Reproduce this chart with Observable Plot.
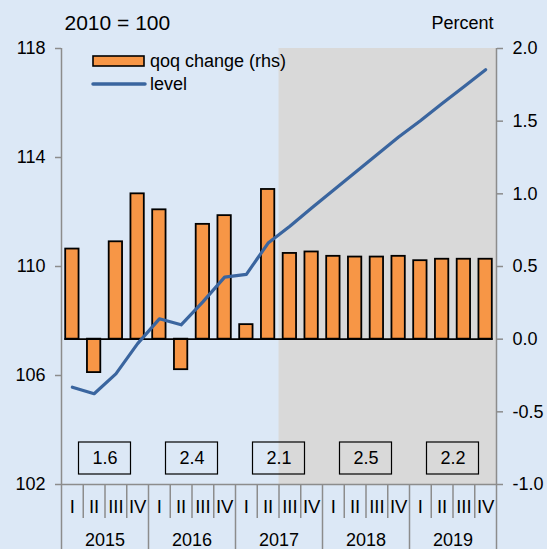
<!DOCTYPE html>
<html><head><meta charset="utf-8">
<script src="https://cdn.jsdelivr.net/npm/d3@7"></script>
<script src="https://cdn.jsdelivr.net/npm/@observablehq/plot@0.6"></script>
<style>
html,body{margin:0;padding:0;background:#dce8f6;}
#chart svg{display:block}
</style></head><body><div id="chart"></div>
<script>
// ---- data ----
const years = [2015, 2016, 2017, 2018, 2019];
const quarterLabels = ["I", "II", "III", "IV"];
const qoqChange = [0.62, -0.23, 0.67, 1.00, 0.89, -0.21, 0.79, 0.85, 0.10, 1.03, 0.59, 0.60, 0.57, 0.565, 0.565, 0.57, 0.54, 0.55, 0.55, 0.55];
const levelIndex = [105.57, 105.33, 106.06, 107.17, 108.08, 107.86, 108.70, 109.61, 109.71, 110.86, 111.48, 112.15, 112.80, 113.45, 114.10, 114.75, 115.35, 115.98, 116.60, 117.22];
const annualGrowth = [1.6, 2.4, 2.1, 2.5, 2.2];
const forecastStartIndex = 10; // 2017 Q3 onwards shaded
const leftTicks = [102, 106, 110, 114, 118];
const rightTicks = [-1.0, -0.5, 0.0, 0.5, 1.0, 1.5, 2.0];
const leftDomain = [102, 118];
const rightDomain = [-1, 2];
const titleLeft = "2010 = 100";
const titleRight = "Percent";
const legendLabels = ["qoq change (rhs)", "level"];

// ---- helpers ----
const toRight = v => rightDomain[0] + (v - leftDomain[0]) / (leftDomain[1] - leftDomain[0]) * (rightDomain[1] - rightDomain[0]);
const fromRight = v => leftDomain[0] + (v - rightDomain[0]) / (rightDomain[1] - rightDomain[0]) * (leftDomain[1] - leftDomain[0]);
const rows = years.flatMap((y, yi) => quarterLabels.map((q, qi) => {
  const i = yi * 4 + qi;
  return {i, year: y, q, qoq: qoqChange[i], level: levelIndex[i]};
}));
const N = rows.length;
const qSeps = rows.map(d => d.i).filter(i => i % 4 !== 0);
const ySeps = years.map((y, yi) => yi * 4).concat([N]);

const FONT = '"Liberation Sans", Arial, sans-serif';
const GRAY = "#8c8c8c";
const ORANGE = "#f79646";
const BLUE = "#3a659f";
const BG = "#dce8f6";

const chart = Plot.plot({
  width: 547, height: 549,
  marginLeft: 61, marginRight: 51, marginTop: 48, marginBottom: 65,
  style: {background: BG, fontFamily: FONT, fontSize: "18px", color: "#000", overflow: "visible"},
  x: {type: "linear", domain: [0, N], axis: null},
  y: {type: "linear", domain: rightDomain, axis: null},
  marks: [
    Plot.rect([forecastStartIndex], {x1: d => d, x2: N, y1: rightDomain[0], y2: rightDomain[1], fill: "#d9d9d9"}),
    Plot.rect(rows, {x1: d => d.i, x2: d => d.i + 1, y1: 0, y2: d => d.qoq, fill: ORANGE, stroke: "#000", strokeWidth: 1.8, insetLeft: 4.2, insetRight: 4.2}),
    Plot.ruleY([0], {x1: 0, x2: N, stroke: "#000", strokeWidth: 1.6, insetLeft: 3.3, insetRight: 3.3}),
    Plot.line(rows, {x: d => d.i + 0.5, y: d => toRight(d.level), stroke: BLUE, strokeWidth: 3.2, strokeLinejoin: "round"}),
    // frame lines
    Plot.ruleY([rightDomain[0]], {stroke: GRAY, strokeWidth: 1.5}),
    Plot.ruleX([0, N], {stroke: GRAY, strokeWidth: 1.5}),
    // axes
    Plot.axisY(leftTicks.map(toRight), {anchor: "left", tickFormat: d => String(Math.round(fromRight(d))), tickSize: 6, tickPadding: 10, stroke: GRAY, strokeWidth: 1.5, fill: "#000", fontSize: 18, label: null}),
    Plot.axisY(rightTicks, {anchor: "right", tickFormat: d => d.toFixed(1), tickSize: 6, tickPadding: 10, stroke: GRAY, strokeWidth: 1.5, fill: "#000", fontSize: 18, label: null}),
    // category axis separators
    Plot.ruleX(qSeps, {y1: rightDomain[0], y2: rightDomain[0], insetBottom: -34, stroke: GRAY, strokeWidth: 1.5}),
    Plot.ruleX(ySeps, {y1: rightDomain[0], y2: rightDomain[0], insetBottom: -65, stroke: GRAY, strokeWidth: 1.5}),
    Plot.text(rows, {x: d => d.i + 0.5, y: rightDomain[0], dy: 23, text: d => d.q, fontSize: 18.5, fill: "#000", ariaLabel: "narrow-labels"}),
    Plot.text(years, {x: (d, i) => i * 4 + 2, y: rightDomain[0], dy: 56, text: d => String(d), fontSize: 18, fill: "#000", ariaLabel: "narrow-labels"}),
    // annual growth boxes
    Plot.rect(years, {x1: (d, i) => i * 4, x2: (d, i) => i * 4 + 4, y1: rightDomain[0], y2: rightDomain[0], insetLeft: 17.5, insetRight: 17.5, insetTop: -42, insetBottom: 10, fill: "none", stroke: "#000", strokeWidth: 1.2}),
    Plot.text(annualGrowth, {x: (d, i) => i * 4 + 2, y: rightDomain[0], dy: -26, text: d => d.toFixed(1), fontSize: 18, fill: "#000"}),
    // titles
    Plot.text([titleLeft], {frameAnchor: "top-left", dx: 3, dy: -25, text: d => d, textAnchor: "start", lineAnchor: "middle", fontSize: 21, fill: "#000"}),
    Plot.text([titleRight], {frameAnchor: "top-right", dx: -3, dy: -25, text: d => d, textAnchor: "end", lineAnchor: "middle", fontSize: 18, fill: "#000"})
  ]
});

// narrow the category axis labels (the reference uses a condensed face)
d3.select(chart).selectAll('g[aria-label="narrow-labels"] text').each(function () {
  const t = d3.select(this);
  const tr = t.attr("transform") || "";
  t.attr("transform", tr + " scale(0.82,1)");
});

// legend inside the plot area
const svg = d3.select(chart);
const lg = svg.append("g").attr("font-family", FONT).attr("font-size", 18).attr("text-anchor", "start");
lg.append("rect").attr("x", 93).attr("y", 56).attr("width", 51).attr("height", 10).attr("fill", ORANGE).attr("stroke", "#000").attr("stroke-width", 1.6);
lg.append("text").attr("x", 150).attr("y", 61).attr("dy", "0.35em").text(legendLabels[0]);
lg.append("line").attr("x1", 93).attr("x2", 145).attr("y1", 84).attr("y2", 84).attr("stroke", BLUE).attr("stroke-width", 3.5).attr("stroke-linecap", "round");
lg.append("text").attr("x", 150).attr("y", 84).attr("dy", "0.35em").text(legendLabels[1]);

document.getElementById("chart").appendChild(chart);
</script>
</body></html>
